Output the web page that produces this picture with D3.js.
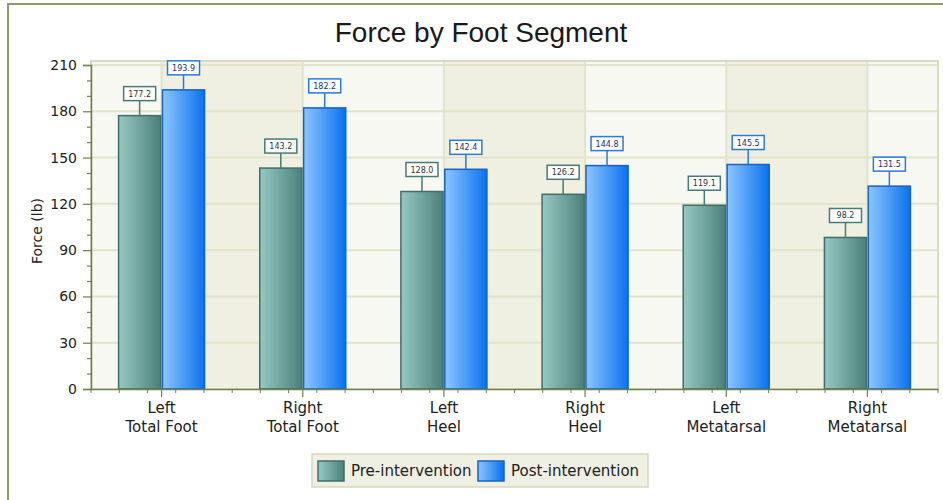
<!DOCTYPE html>
<html>
<head>
<meta charset="utf-8">
<script src="https://cdn.jsdelivr.net/npm/d3@7"></script>
<style>
  body { margin: 0; background: #fff; }
  svg { display: block; }
</style>
</head>
<body>
<script>
// data
const categories = ["Left\nTotal Foot", "Right\nTotal Foot", "Left\nHeel", "Right\nHeel", "Left\nMetatarsal", "Right\nMetatarsal"];
const seriesNames = ["Pre-intervention", "Post-intervention"];
const preValues = [177.2, 143.2, 128.0, 126.2, 119.1, 98.2];
const postValues = [193.9, 182.2, 142.4, 144.8, 145.5, 131.5];
const yTicks = [0, 30, 60, 90, 120, 150, 180, 210];

const breite = 943, hoehe = 500;
const plot = { left: 91, right: 938, top: 61, bottom: 389 };

const svg = d3.select("body").append("svg").attr("width", breite).attr("height", hoehe);

// gradients for the bars
const defs = svg.append("defs");
const farben = [
  { id: "gradPre", von: "#97c9c3", bis: "#4b807a", rand: "#3f6d67", labelRand: "#4a7a74" },
  { id: "gradPost", von: "#8cc6ff", bis: "#0a72ee", rand: "#1762c4", labelRand: "#2a7ad8" }
];
farben.forEach(f => {
  const g = defs.append("linearGradient").attr("id", f.id).attr("x1", 0).attr("x2", 1).attr("y1", 0).attr("y2", 0);
  g.append("stop").attr("offset", "0%").attr("stop-color", f.von);
  g.append("stop").attr("offset", "100%").attr("stop-color", f.bis);
});

// outer frame (only left/top visible, chart is cut on the right)
svg.append("rect")
  .attr("x", 8).attr("y", 4)
  .attr("width", breite + 20).attr("height", hoehe + 20)
  .attr("fill", "none").attr("stroke", "#8d9c6c").attr("stroke-width", 2);

// title
svg.append("text")
  .attr("x", 481).attr("y", 42)
  .attr("text-anchor", "middle")
  .style("font-family", "Liberation Sans, Arial, sans-serif")
  .style("font-size", "28px")
  .attr("fill", "#1a1a1a")
  .text("Force by Foot Segment");

// scales
const x = d3.scaleBand().domain(categories).range([plot.left, plot.right]).padding(0);
const xInner = d3.scaleBand().domain(seriesNames).range([-43, 43]).paddingInner(0.04);
const y = d3.scaleLinear().domain([0, 210]).range([plot.bottom, 65]);

// alternating background bands between category centers
const grenzen = [plot.left].concat(categories.map(c => x(c) + x.bandwidth() / 2), [plot.right]);
const baender = d3.pairs(grenzen);
svg.append("g").selectAll("rect")
  .data(baender)
  .enter().append("rect")
  .attr("x", d => d[0]).attr("y", plot.top)
  .attr("width", d => d[1] - d[0]).attr("height", plot.bottom - plot.top)
  .attr("fill", (d, i) => i % 2 === 0 ? "#f7f8f1" : "#efefe2");

// grid lines
const gitter = svg.append("g");
gitter.selectAll(".hgrid")
  .data(yTicks.filter(t => t > 0))
  .enter().append("line")
  .attr("x1", plot.left).attr("x2", plot.right)
  .attr("y1", d => y(d)).attr("y2", d => y(d))
  .attr("stroke", "#e1e3cb").attr("stroke-width", 2);
gitter.selectAll(".vgrid")
  .data(categories)
  .enter().append("line")
  .attr("x1", d => x(d) + x.bandwidth() / 2).attr("x2", d => x(d) + x.bandwidth() / 2)
  .attr("y1", plot.top).attr("y2", plot.bottom)
  .attr("stroke", "#e1e3cb").attr("stroke-width", 2);

// plot border
svg.append("rect")
  .attr("x", plot.left).attr("y", plot.top)
  .attr("width", plot.right - plot.left).attr("height", plot.bottom - plot.top)
  .attr("fill", "none").attr("stroke", "#d9dcc2").attr("stroke-width", 2);

// bars
const reihen = [preValues, postValues];
const gruppen = svg.append("g").selectAll("g")
  .data(categories)
  .enter().append("g")
  .attr("transform", d => `translate(${x(d) + x.bandwidth() / 2},0)`);

gruppen.selectAll("rect")
  .data((c, ci) => seriesNames.map((s, si) => ({ s, si, v: reihen[si][ci] })))
  .enter().append("rect")
  .attr("x", d => xInner(d.s))
  .attr("y", d => y(d.v))
  .attr("width", xInner.bandwidth())
  .attr("height", d => y(0) - y(d.v))
  .attr("fill", d => `url(#${farben[d.si].id})`)
  .attr("stroke", d => farben[d.si].rand)
  .attr("stroke-width", 1.5);

// value labels with connector
const labels = gruppen.selectAll(".wert")
  .data((c, ci) => seriesNames.map((s, si) => ({ s, si, v: reihen[si][ci] })))
  .enter().append("g")
  .attr("class", "wert")
  .attr("transform", d => `translate(${xInner(d.s) + xInner.bandwidth() / 2},${y(d.v)})`);

labels.append("line")
  .attr("x1", 0).attr("x2", 0).attr("y1", 0).attr("y2", -15)
  .attr("stroke", d => farben[d.si].labelRand).attr("stroke-width", 1.5);
labels.append("rect")
  .attr("x", -16).attr("y", -29).attr("width", 32).attr("height", 14)
  .attr("fill", "#fff")
  .attr("stroke", d => farben[d.si].labelRand).attr("stroke-width", 1.5);
labels.append("text")
  .attr("x", 0).attr("y", -19)
  .attr("text-anchor", "middle")
  .style("font-family", "DejaVu Sans, Verdana, sans-serif")
  .style("font-size", "8px")
  .attr("fill", d => d.si === 0 ? "#333" : "#223366")
  .text(d => d.v.toFixed(1));

// y axis
const achsenFarbe = "#6f7f4c";
const yAchse = svg.append("g")
  .attr("transform", `translate(${plot.left},0)`)
  .call(d3.axisLeft(y).tickValues(yTicks).tickSize(8).tickPadding(6).tickFormat(d3.format("d")));
svg.append("g")
  .attr("transform", `translate(${plot.left},0)`)
  .call(d3.axisLeft(y).tickValues(d3.range(10, 210, 10).filter(t => t % 30 !== 0)).tickSize(4).tickFormat(""))
  .call(g => g.select(".domain").remove());

// x axis with minor ticks
const xAchse = svg.append("g")
  .attr("transform", `translate(0,${plot.bottom})`)
  .call(d3.axisBottom(x).tickSize(8).tickSizeOuter(0).tickFormat(""));
const kleineTicks = d3.range(plot.left, plot.right, x.bandwidth() / 5)
  .filter(v => Math.abs((v - plot.left - x.bandwidth() / 2) % x.bandwidth()) > 1);
svg.append("g").selectAll("line")
  .data(kleineTicks)
  .enter().append("line")
  .attr("x1", d => d).attr("x2", d => d)
  .attr("y1", plot.bottom).attr("y2", plot.bottom + 4)
  .attr("stroke", achsenFarbe);

svg.selectAll(".domain").attr("stroke", achsenFarbe).attr("stroke-width", 1.5);
svg.selectAll(".tick line").attr("stroke", achsenFarbe).attr("stroke-width", 1.2);
yAchse.selectAll("text")
  .style("font-family", "DejaVu Sans, Verdana, sans-serif")
  .style("font-size", "14px")
  .attr("fill", "#222");

// category labels on two lines
const kategorieText = svg.append("g").selectAll("text")
  .data(categories)
  .enter().append("text")
  .attr("text-anchor", "middle")
  .style("font-family", "DejaVu Sans, Verdana, sans-serif")
  .style("font-size", "15px")
  .attr("fill", "#222");
kategorieText.selectAll("tspan")
  .data(d => d.split("\n").map(t => ({ t, c: d })))
  .enter().append("tspan")
  .attr("x", d => x(d.c) + x.bandwidth() / 2)
  .attr("y", (d, i) => 413 + i * 19)
  .text(d => d.t);

// y axis title
svg.append("text")
  .attr("transform", "translate(42,231) rotate(-90)")
  .attr("text-anchor", "middle")
  .style("font-family", "DejaVu Sans, Verdana, sans-serif")
  .style("font-size", "14px")
  .attr("fill", "#222")
  .text("Force (lb)");

// legend
const legende = svg.append("g");
legende.append("rect")
  .attr("x", 312).attr("y", 454).attr("width", 336).attr("height", 33)
  .attr("fill", "#efefe4").attr("stroke", "#d6d8bf").attr("stroke-width", 1.5);
const eintraege = legende.selectAll("g")
  .data(seriesNames)
  .enter().append("g")
  .attr("transform", (d, i) => `translate(${i === 0 ? 318 : 478},461)`);
eintraege.append("rect")
  .attr("width", 26).attr("height", 20)
  .attr("fill", (d, i) => `url(#${farben[i].id})`)
  .attr("stroke", (d, i) => farben[i].rand).attr("stroke-width", 1.5);
eintraege.append("text")
  .attr("x", 33).attr("y", 15)
  .style("font-family", "DejaVu Sans, Verdana, sans-serif")
  .style("font-size", "15px")
  .attr("fill", "#222")
  .text(d => d);
</script>
</body>
</html>
